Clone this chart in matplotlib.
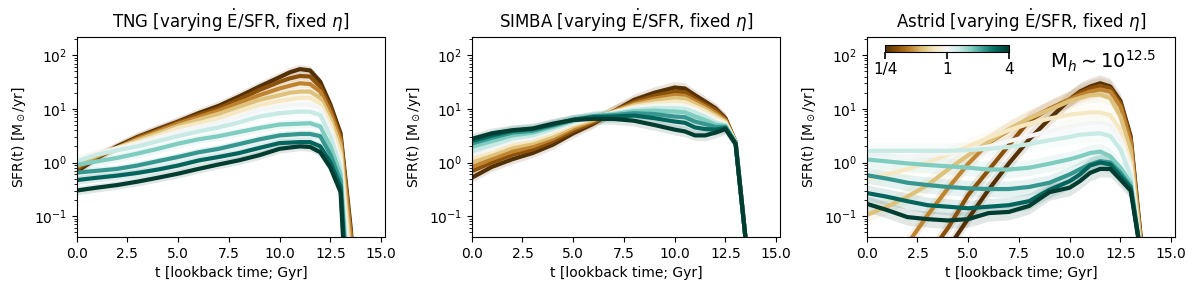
import numpy as np
import matplotlib
matplotlib.use("Agg")
import matplotlib.pyplot as plt
from matplotlib.colors import LogNorm
from matplotlib.cm import ScalarMappable

# lookback time grid [Gyr]
t_gyr = [0, 1, 2, 3, 4, 5, 6, 7, 8, 9, 10, 10.5, 11, 11.5, 12, 12.5, 13, 13.5, 14]

# E-dot/SFR multipliers (1/4 ... 4), one curve each
e_ratio = [0.25, 0.33, 0.44, 0.57, 0.76, 1.0, 1.32, 1.74, 2.3, 3.03, 4.0]

# SFR(t) [Msun/yr], rows follow e_ratio
sfr_tng = [
    [0.68, 1.2, 2.0, 3.0, 4.2, 5.8, 8.3, 11.4, 17, 26, 39, 48, 55, 52, 32, 12, 3.5, 0.06, 1e-4],
    [0.75, 1.25, 1.9, 2.9, 4.0, 5.6, 7.7, 10.3, 15, 22.5, 32, 37, 41, 40, 26, 10.3, 3.0, 0.05, 1e-4],
    [0.82, 1.3, 1.87, 2.75, 3.8, 5.3, 7.0, 9.3, 13, 18, 24, 27, 30, 29, 21, 8.5, 2.6, 0.04, 1e-4],
    [0.95, 1.35, 1.87, 2.6, 3.55, 4.8, 6.3, 8.1, 11, 14.7, 18, 20, 21, 21, 16, 6.7, 2.0, 0.02, 1e-4],
    [1.1, 1.45, 1.87, 2.4, 3.2, 4.4, 5.4, 6.7, 9.0, 11.8, 14, 15, 16, 16, 12.7, 5.3, 1.4, 0.01, 1e-4],
    [1.15, 1.45, 1.8, 2.25, 2.9, 3.8, 4.6, 5.6, 7.2, 9.6, 11, 11.5, 12, 12, 10.3, 4.1, 1.0, 0.005, 1e-4],
    [1.05, 1.4, 1.7, 2.0, 2.5, 3.1, 3.8, 4.5, 5.6, 7.2, 8.3, 8.6, 8.9, 8.8, 7.7, 3.1, 0.8, 0.002, 1e-4],
    [0.9, 1.05, 1.22, 1.47, 1.8, 2.25, 2.7, 3.1, 3.7, 4.4, 5.1, 5.2, 5.3, 5.4, 4.7, 2.0, 0.6, 1e-3, 1e-4],
    [0.65, 0.7, 0.76, 0.88, 1.06, 1.27, 1.55, 1.8, 2.2, 2.7, 3.2, 3.3, 3.4, 3.4, 3.1, 1.4, 0.45, 5e-4, 1e-4],
    [0.47, 0.52, 0.57, 0.64, 0.74, 0.88, 1.09, 1.27, 1.5, 1.87, 2.3, 2.35, 2.4, 2.4, 2.0, 1.0, 0.35, 2e-4, 1e-4],
    [0.3, 0.34, 0.38, 0.44, 0.52, 0.62, 0.76, 0.92, 1.1, 1.37, 1.8, 1.9, 2.0, 1.95, 1.55, 0.8, 0.28, 1e-4, 1e-4],
]

sfr_simba = [
    [0.52, 0.83, 1.15, 1.5, 2.15, 3.5, 5.3, 9.0, 14.7, 20, 25, 24, 18, 13.7, 10.3, 6.7, 2.4, 0.035, 1e-4],
    [0.69, 1.0, 1.4, 1.75, 2.5, 3.9, 5.6, 9.0, 13.5, 17.5, 21, 20.5, 15.5, 12, 9.6, 6.4, 2.4, 0.035, 1e-4],
    [0.82, 1.17, 1.6, 2.0, 2.8, 4.3, 6.0, 9.0, 12.5, 15.5, 18, 17.5, 14, 11, 8.5, 6.1, 2.4, 0.035, 1e-4],
    [1.0, 1.37, 1.9, 2.3, 3.1, 4.7, 6.3, 8.8, 11.7, 14, 16, 15.5, 12.5, 10, 7.7, 5.8, 2.4, 0.035, 1e-4],
    [1.2, 1.6, 2.2, 2.6, 3.5, 5.1, 6.6, 8.6, 11, 12.5, 13.7, 13.3, 11, 9.0, 7.0, 5.5, 2.4, 0.035, 1e-4],
    [1.4, 1.8, 2.5, 2.9, 3.9, 5.4, 6.9, 8.4, 10.3, 11.5, 11.8, 11.5, 9.8, 8.0, 6.3, 5.2, 2.35, 0.035, 1e-4],
    [1.6, 2.1, 2.8, 3.2, 4.2, 5.7, 7.1, 8.2, 9.6, 10.3, 10.3, 10, 8.6, 7.2, 5.6, 5.0, 2.35, 0.035, 1e-4],
    [1.95, 2.5, 3.2, 3.6, 4.6, 6.0, 7.3, 8.0, 9.0, 9.3, 8.9, 8.6, 7.2, 6.2, 5.1, 4.8, 2.3, 0.035, 1e-4],
    [2.25, 2.9, 3.6, 3.9, 4.9, 6.2, 7.3, 7.6, 8.3, 8.0, 7.2, 7.0, 5.8, 5.2, 4.6, 4.6, 2.3, 0.035, 1e-4],
    [2.5, 3.2, 3.9, 4.2, 5.1, 6.3, 7.0, 7.2, 7.5, 6.7, 5.8, 5.5, 4.5, 4.2, 4.1, 4.4, 2.3, 0.035, 1e-4],
    [2.75, 3.5, 4.0, 4.3, 5.3, 6.2, 6.5, 6.5, 6.0, 5.0, 4.1, 3.8, 3.2, 3.2, 3.6, 4.2, 2.2, 0.035, 1e-4],
]

sfr_astrid = [
    [1.6e-4, 5.6e-4, 2e-3, 7e-3, 0.025, 0.09, 0.31, 0.96, 2.7, 6.5, 15, 21, 26, 30, 26, 14, 3.1, 0.04, 1e-4],
    [6e-4, 2e-3, 6e-3, 0.018, 0.06, 0.25, 0.72, 2.1, 6.0, 10, 15, 20, 24, 27, 24, 12.5, 2.8, 0.035, 1e-4],
    [3e-3, 9e-3, 0.03, 0.105, 0.33, 0.95, 2.3, 4.0, 6.5, 10, 15, 18, 21, 23, 21, 11, 2.4, 0.03, 1e-4],
    [0.105, 0.15, 0.23, 0.38, 0.74, 1.37, 2.4, 4.2, 6.7, 9.6, 14, 16, 18, 18.5, 15.8, 7.2, 1.7, 0.03, 1e-4],
    [0.5, 0.6, 0.75, 1.0, 1.4, 2.0, 2.9, 4.0, 5.3, 6.6, 7.8, 8.2, 8.6, 8.6, 7.6, 4.0, 1.0, 0.02, 1e-4],
    [1.2, 1.2, 1.25, 1.35, 1.5, 1.7, 2.0, 2.5, 3.1, 3.9, 4.7, 5.1, 5.4, 5.5, 5.0, 2.8, 0.8, 0.02, 1e-4],
    [1.65, 1.65, 1.65, 1.65, 1.65, 1.7, 1.8, 1.95, 2.2, 2.6, 3.0, 3.3, 3.4, 3.5, 3.1, 1.74, 0.56, 0.02, 1e-4],
    [1.14, 1.05, 0.96, 0.9, 0.85, 0.8, 0.74, 0.74, 0.8, 0.95, 1.15, 1.3, 1.5, 1.6, 1.3, 0.8, 0.42, 0.02, 1e-4],
    [0.58, 0.5, 0.42, 0.38, 0.35, 0.33, 0.32, 0.32, 0.35, 0.42, 0.6, 0.75, 0.92, 1.06, 1.0, 0.64, 0.36, 0.02, 1e-4],
    [0.27, 0.23, 0.19, 0.16, 0.15, 0.14, 0.15, 0.16, 0.19, 0.31, 0.45, 0.6, 0.88, 1.0, 0.92, 0.56, 0.34, 0.02, 1e-4],
    [0.17, 0.13, 0.096, 0.088, 0.083, 0.088, 0.114, 0.12, 0.155, 0.28, 0.34, 0.45, 0.64, 0.76, 0.76, 0.48, 0.3, 0.02, 1e-4],
]

# 1-sigma scatter of each curve [dex]
scatter_dex = {"TNG": 0.08, "SIMBA": 0.10, "Astrid": 0.15}

panels = [("TNG", sfr_tng), ("SIMBA", sfr_simba), ("Astrid", sfr_astrid)]

cmap = plt.cm.BrBG
norm = LogNorm(vmin=0.25, vmax=4.0)

fig = plt.figure(figsize=(11.96, 2.9), dpi=100)
lefts = [0.0641, 0.3944, 0.7247]
t = np.array(t_gyr)

for left, (name, sfr) in zip(lefts, panels):
    ax = fig.add_axes([left, 0.183, 0.258, 0.69])
    sig = scatter_dex[name]
    for ratio, row in zip(e_ratio, sfr):
        y = np.array(row)
        c = cmap(norm(ratio))
        ax.fill_between(t, y * 10**(-sig), y * 10**sig, color=c, alpha=0.12, lw=0)
        ax.plot(t, y, color=c, lw=3.0, solid_capstyle="butt")
    ax.set_yscale("log")
    ax.set_xlim(0, 15.2)
    ax.set_ylim(0.041, 220)
    ax.set_title(name + r" [varying $\dot{\rm E}$/SFR, fixed $\eta$]", fontsize=12)
    ax.set_xlabel("t [lookback time; Gyr]")
    ax.set_ylabel(r"SFR(t) [M$_\odot$/yr]")

    if name == "Astrid":
        cax = ax.inset_axes([0.06, 0.925, 0.40, 0.035])
        sm = ScalarMappable(norm=norm, cmap=cmap)
        cb = fig.colorbar(sm, cax=cax, orientation="horizontal")
        cb.set_ticks([0.25, 1, 4])
        cb.set_ticklabels(["1/4", "1", "4"])
        cb.ax.minorticks_off()
        cb.ax.tick_params(labelsize=11, length=5, width=1.2, pad=2.5)
        ax.text(0.94, 0.875, r"M$_h\sim10^{12.5}$", transform=ax.transAxes,
                ha="right", va="center", fontsize=14)

fig.savefig("out.png", dpi=100)
